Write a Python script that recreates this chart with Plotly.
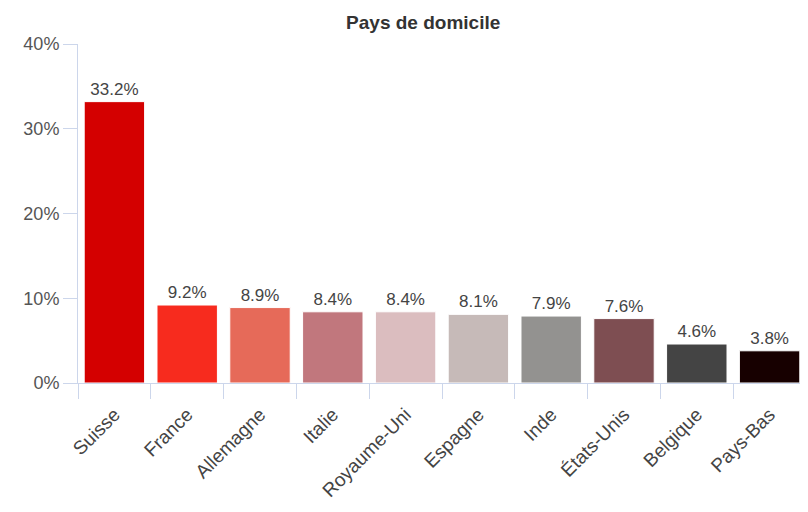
import plotly.graph_objects as go

countries = ["Suisse", "France", "Allemagne", "Italie", "Royaume-Uni",
             "Espagne", "Inde", "États-Unis", "Belgique", "Pays-Bas"]
shares = [33.2, 9.2, 8.9, 8.4, 8.4, 8.1, 7.9, 7.6, 4.6, 3.8]
colors = ["#d40000", "#f72b1e", "#e66a59", "#c1777d", "#dbbdbf",
          "#c6bab8", "#939290", "#7e4e52", "#444444", "#170000"]
y_ticks = [0, 10, 20, 30, 40]
y_tick_labels = ["0%", "10%", "20%", "30%", "40%"]

FONT = "Liberation Sans, Arial, sans-serif"

fig = go.Figure(go.Bar(
    x=countries, y=shares,
    marker=dict(color=colors, line=dict(color="#ffffff", width=1)),
    text=[f"{v:.1f}%" for v in shares],
    textposition="outside", cliponaxis=False,
    textfont=dict(family=FONT, size=17, color="#444444"),
    width=0.83,
))

fig.update_layout(
    width=800, height=504,
    margin=dict(l=70, r=2, t=36, b=129, autoexpand=False),
    paper_bgcolor="white", plot_bgcolor="white",
    showlegend=False,
    title=dict(text="<b>Pays de domicile</b>", x=0.519, xanchor="center", y=0.972, yanchor="middle",
               font=dict(family=FONT, size=19, color="#333333")),
    font=dict(family=FONT),
)
fig.update_xaxes(
    automargin=False,
    tickangle=-45, tickson="boundaries", ticks="outside", ticklen=15, tickcolor="#ccd6eb",
    ticklabelstandoff=12,
    showline=True, linecolor="#ccd6eb", linewidth=1,
    tickfont=dict(family=FONT, size=19, color="#444444"), showgrid=False,
)
fig.update_yaxes(
    automargin=False,
    range=[0, 40], tickmode="array", tickvals=y_ticks, ticktext=y_tick_labels,
    ticks="outside", ticklen=14,
    tickcolor="#ccd6eb", showline=True, linecolor="#ccd6eb", linewidth=1,
    showgrid=False, zeroline=False,
    tickfont=dict(family=FONT, size=18, color="#555555"),
)

fig.write_html("out.html")
